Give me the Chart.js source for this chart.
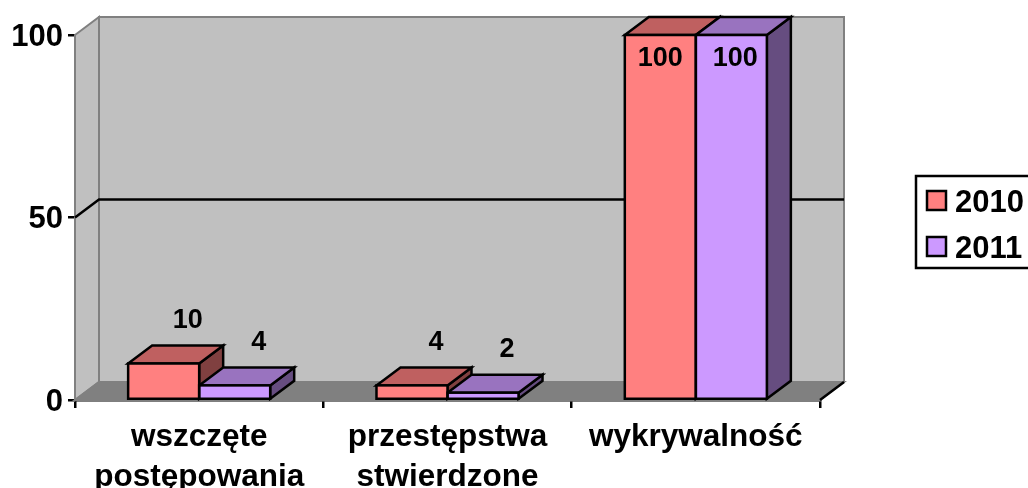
<!DOCTYPE html>
<html>
<head>
<meta charset="utf-8">
<style>html,body{margin:0;padding:0;background:#fff;overflow:hidden}canvas{display:block}</style>
<script src="https://cdn.jsdelivr.net/npm/chart.js@4"></script>
</head>
<body>
<canvas id="c" width="1028" height="488"></canvas>
<script>
const categories = [["wszczęte","postępowania"],["przestępstwa","stwierdzone"],"wykrywalność"];
const seriesNames = ["2010","2011"];
const values2010 = [10,4,100];
const values2011 = [4,2,100];
const frontColors = ["#ff8080","#cc99ff"];
const topColors = ["#bf6060","#9973bf"];
const sideColors = ["#804040","#664d80"];
const FONT = '"Liberation Sans", Arial, sans-serif';
const dx = 24, dy = 18, LW = 2.5;

function poly(ctx, pts, fill, stroke, lw){
  ctx.beginPath();
  pts.forEach((p,i)=> i?ctx.lineTo(p[0],p[1]):ctx.moveTo(p[0],p[1]));
  ctx.closePath();
  if(fill){ctx.fillStyle=fill;ctx.fill();}
  if(stroke){ctx.strokeStyle=stroke;ctx.lineWidth=lw||2;ctx.stroke();}
}

const box3d = {
  id:'box3d',
  beforeDatasetsDraw(chart){
    const {ctx,chartArea:a,scales:{y}} = chart;
    const L=a.left,R=a.right,T=a.top,B=a.bottom;
    ctx.save();
    ctx.lineJoin='miter';
    poly(ctx,[[L,T],[L+dx,T-dy],[L+dx,B-dy],[L,B]],'#c0c0c0','#808080',2);
    poly(ctx,[[L+dx,T-dy],[R+dx,T-dy],[R+dx,B-dy],[L+dx,B-dy]],'#c0c0c0','#808080',2);
    poly(ctx,[[L,B],[L+dx,B-dy],[R+dx,B-dy],[R,B]],'#808080','#808080',2);
    // gridline along both walls
    y.ticks.forEach(t=>{
      if(t.value===y.min||t.value===y.max) return;
      const py=y.getPixelForValue(t.value);
      ctx.beginPath();ctx.moveTo(L,py);ctx.lineTo(L+dx,py-dy);ctx.lineTo(R+dx,py-dy);
      ctx.strokeStyle='#000';ctx.lineWidth=LW;ctx.stroke();
    });
    // floor right edge
    ctx.beginPath();ctx.moveTo(R,B);ctx.lineTo(R+dx,B-dy);ctx.strokeStyle='#000';ctx.lineWidth=LW;ctx.stroke();
    // bar depth faces, back to front
    chart.data.datasets.forEach((ds,di)=>{
      chart.getDatasetMeta(di).data.forEach(bar=>{
        const l=bar.x-bar.width/2,r=bar.x+bar.width/2,t=bar.y,b=bar.base;
        poly(ctx,[[r,t],[r+dx,t-dy],[r+dx,b-dy],[r,b]],sideColors[di],'#000',LW);
        poly(ctx,[[l,t],[l+dx,t-dy],[r+dx,t-dy],[r,t]],topColors[di],'#000',LW);
      });
    });
    ctx.restore();
  },
  afterDatasetsDraw(chart){
    const {ctx,chartArea:a} = chart;
    ctx.save();
    ctx.lineJoin='miter';
    chart.data.datasets.forEach((ds,di)=>{
      chart.getDatasetMeta(di).data.forEach(bar=>{
        ctx.strokeStyle='#000';ctx.lineWidth=LW;
        ctx.strokeRect(bar.x-bar.width/2,bar.y,bar.width,bar.base-bar.y);
      });
    });
    ctx.font='bold 27px '+FONT;ctx.fillStyle='#000';ctx.textAlign='center';ctx.textBaseline='middle';
    chart.data.datasets.forEach((ds,di)=>{
      chart.getDatasetMeta(di).data.forEach((bar,i)=>{
        let lx=bar.x+dx, ly=bar.y-dy-25;
        if(ly<a.top-dy){lx=bar.x+di*4;ly=bar.y+24;}
        ctx.fillText(String(ds.data[i]),lx,ly);
      });
    });
    // legend
    const lg={x:916,y:176,w:114,h:92};
    ctx.strokeStyle='#000';ctx.lineWidth=LW;ctx.strokeRect(lg.x,lg.y,lg.w,lg.h);
    ctx.font='bold 31px '+FONT;ctx.textAlign='left';ctx.textBaseline='alphabetic';
    chart.data.datasets.forEach((ds,di)=>{
      const sy=191+di*46;
      ctx.fillStyle=frontColors[di];ctx.fillRect(927,sy,19,19);
      ctx.strokeStyle='#000';ctx.lineWidth=LW;ctx.strokeRect(927,sy,19,19);
      ctx.fillStyle='#000';ctx.fillText(ds.label,955,212+di*46);
    });
    ctx.restore();
  }
};

new Chart(document.getElementById('c'),{
  type:'bar',
  data:{labels:categories,datasets:[
    {label:seriesNames[0],data:values2010,backgroundColor:frontColors[0],borderWidth:0},
    {label:seriesNames[1],data:values2011,backgroundColor:frontColors[1],borderWidth:0}
  ]},
  plugins:[box3d],
  options:{
    responsive:false,animation:false,devicePixelRatio:1,
    layout:{padding:{left:0,top:35,right:208,bottom:0}},
    datasets:{bar:{barPercentage:1,categoryPercentage:0.572}},
    plugins:{legend:{display:false},title:{display:false},tooltip:{enabled:false}},
    scales:{
      x:{
        afterFit(s){s.height=88;},
        grid:{offset:true,drawOnChartArea:false,drawTicks:true,tickLength:8,color:'#000',lineWidth:LW},
        border:{display:true,color:'#000',width:LW},
        ticks:{color:'#000',padding:9,maxRotation:0,autoSkip:false,font:{family:FONT,size:31.5,weight:'bold',lineHeight:1.27}}
      },
      y:{
        min:0,max:100,
        afterFit(s){s.width=75;},
        grid:{drawOnChartArea:false,drawTicks:true,tickLength:7,color:'#000',lineWidth:LW},
        border:{display:true,color:'#000',width:LW},
        ticks:{stepSize:50,color:'#000',padding:5,labelOffset:2,font:{family:FONT,size:31,weight:'bold'}}
      }
    }
  }
});
</script>
</body>
</html>
